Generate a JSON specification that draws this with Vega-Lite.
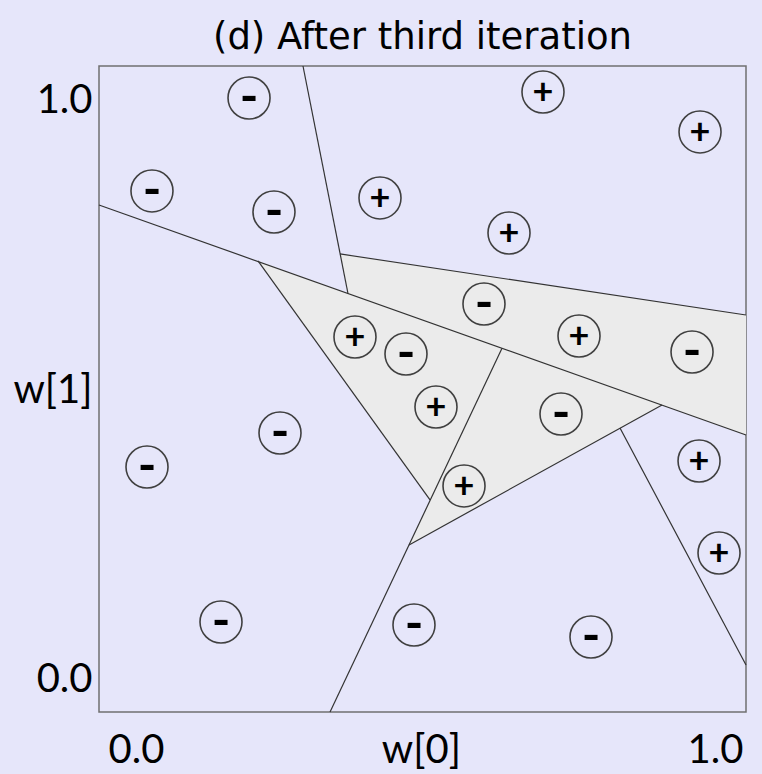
{
  "$schema": "https://vega.github.io/schema/vega-lite/v6.json",
  "width": 647,
  "height": 646,
  "autosize": "none",
  "padding": {"left": 99, "top": 66, "right": 16, "bottom": 62},
  "background": "#e6e6fa",
  "title": {"text": "(d) After third iteration", "font": "DejaVu Sans", "fontSize": 37, "fontWeight": "normal", "color": "#000000", "anchor": "middle", "offset": 8},
  "config": {
    "view": {"stroke": "#707070", "strokeWidth": 1.5, "fill": "#e6e6fa"},
    "axis": {"grid": false, "ticks": false, "domain": false, "title": null, "labelFont": "Lato", "labelFontSize": 40, "labelColor": "#000000", "labelOverlap": false, "labelFlush": false}
  },
  "datasets": {
    "polys": [
      {"poly": "band", "ord": 1, "x": 0.3523, "y": 0.7358},
      {"poly": "band", "ord": 2, "x": 1.0535, "y": 0.6304},
      {"poly": "band", "ord": 3, "x": 1.0535, "y": 0.4231},
      {"poly": "band", "ord": 4, "x": 0.3661, "y": 0.6675},
      {"poly": "left", "ord": 1, "x": 0.2107, "y": 0.7237},
      {"poly": "left", "ord": 2, "x": 0.6321, "y": 0.5729},
      {"poly": "left", "ord": 3, "x": 0.5078, "y": 0.3109},
      {"poly": "mid", "ord": 1, "x": 0.6321, "y": 0.5729},
      {"poly": "mid", "ord": 2, "x": 0.9085, "y": 0.4750},
      {"poly": "mid", "ord": 3, "x": 0.4715, "y": 0.2332}
    ],
    "lines": [
      {"x": -0.0639, "y": 0.8204, "x2": 1.0535, "y2": 0.4231},
      {"x": 0.3523, "y": 0.7358, "x2": 1.0535, "y2": 0.6304},
      {"x": 0.2884, "y": 1.0604, "x2": 0.3661, "y2": 0.6675},
      {"x": 0.6321, "y": 0.5729, "x2": 0.3351, "y2": -0.0553},
      {"x": 0.2107, "y": 0.7237, "x2": 0.5078, "y2": 0.3109},
      {"x": 0.4715, "y": 0.2332, "x2": 0.9085, "y2": 0.4750},
      {"x": 0.8359, "y": 0.4352, "x2": 1.0535, "y2": 0.0259}
    ],
    "points": [
      {"sign": "-", "x": 0.1952, "y": 1.0052},
      {"sign": "+", "x": 0.7029, "y": 1.0155},
      {"sign": "+", "x": 0.9741, "y": 0.9465},
      {"sign": "-", "x": 0.0276, "y": 0.8446},
      {"sign": "-", "x": 0.2383, "y": 0.8083},
      {"sign": "+", "x": 0.4214, "y": 0.8325},
      {"sign": "+", "x": 0.6442, "y": 0.7720},
      {"sign": "-", "x": 0.6010, "y": 0.6494},
      {"sign": "+", "x": 0.3782, "y": 0.5924},
      {"sign": "-", "x": 0.4663, "y": 0.5630},
      {"sign": "+", "x": 0.7651, "y": 0.5941},
      {"sign": "-", "x": 0.9603, "y": 0.5665},
      {"sign": "+", "x": 0.5181, "y": 0.4715},
      {"sign": "-", "x": 0.7340, "y": 0.4594},
      {"sign": "-", "x": 0.2487, "y": 0.4266},
      {"sign": "-", "x": 0.0190, "y": 0.3679},
      {"sign": "+", "x": 0.5665, "y": 0.3351},
      {"sign": "+", "x": 0.9724, "y": 0.3782},
      {"sign": "+", "x": 1.0069, "y": 0.2193},
      {"sign": "-", "x": 0.1468, "y": 0.1002},
      {"sign": "-", "x": 0.4801, "y": 0.0950},
      {"sign": "-", "x": 0.7858, "y": 0.0743}
    ]
  },
  "encoding": {
    "x": {"field": "x", "type": "quantitative", "scale": {"domain": [-0.0639, 1.0535], "nice": false, "zero": false},
      "axis": {"values": [0, 0.492, 1], "labelExpr": "datum.value == 0 ? '0.0' : (datum.value == 1 ? '1.0' : 'w[0]')", "labelPadding": 18}},
    "y": {"field": "y", "type": "quantitative", "scale": {"domain": [-0.0553, 1.0604], "nice": false, "zero": false},
      "axis": {"values": [0, 0.5, 1], "labelExpr": "datum.value == 0 ? '0.0' : (datum.value == 1 ? '1.0' : 'w[1]')", "labelPadding": 7, "labelBaseline": "middle"}}
  },
  "layer": [
    {
      "data": {"name": "polys"},
      "mark": {"type": "line", "interpolate": "linear-closed", "fill": "#ebebeb", "stroke": "transparent", "strokeWidth": 0},
      "encoding": {"detail": {"field": "poly"}, "order": {"field": "ord", "type": "quantitative"}}
    },
    {
      "data": {"name": "lines"},
      "mark": {"type": "rule", "stroke": "#333333", "strokeWidth": 1.2},
      "encoding": {"x2": {"field": "x2"}, "y2": {"field": "y2"}}
    },
    {
      "data": {"name": "points"},
      "mark": {"type": "point", "shape": "circle", "size": 1764, "filled": false, "stroke": "#404040", "strokeWidth": 1.6, "opacity": 1}
    },
    {
      "data": {"name": "points"},
      "transform": [{"filter": "datum.sign == '+'"}],
      "mark": {"type": "text", "font": "Lato", "fontWeight": "bold", "fontSize": 36, "color": "#000000", "baseline": "middle", "align": "center", "dy": 1},
      "encoding": {"text": {"field": "sign"}}
    },
    {
      "data": {"name": "points"},
      "transform": [{"filter": "datum.sign == '-'"}],
      "mark": {"type": "text", "font": "Lato", "fontWeight": "bold", "fontSize": 50, "color": "#000000", "baseline": "middle", "align": "center", "dy": 1},
      "encoding": {"text": {"field": "sign"}}
    }
  ]
}
